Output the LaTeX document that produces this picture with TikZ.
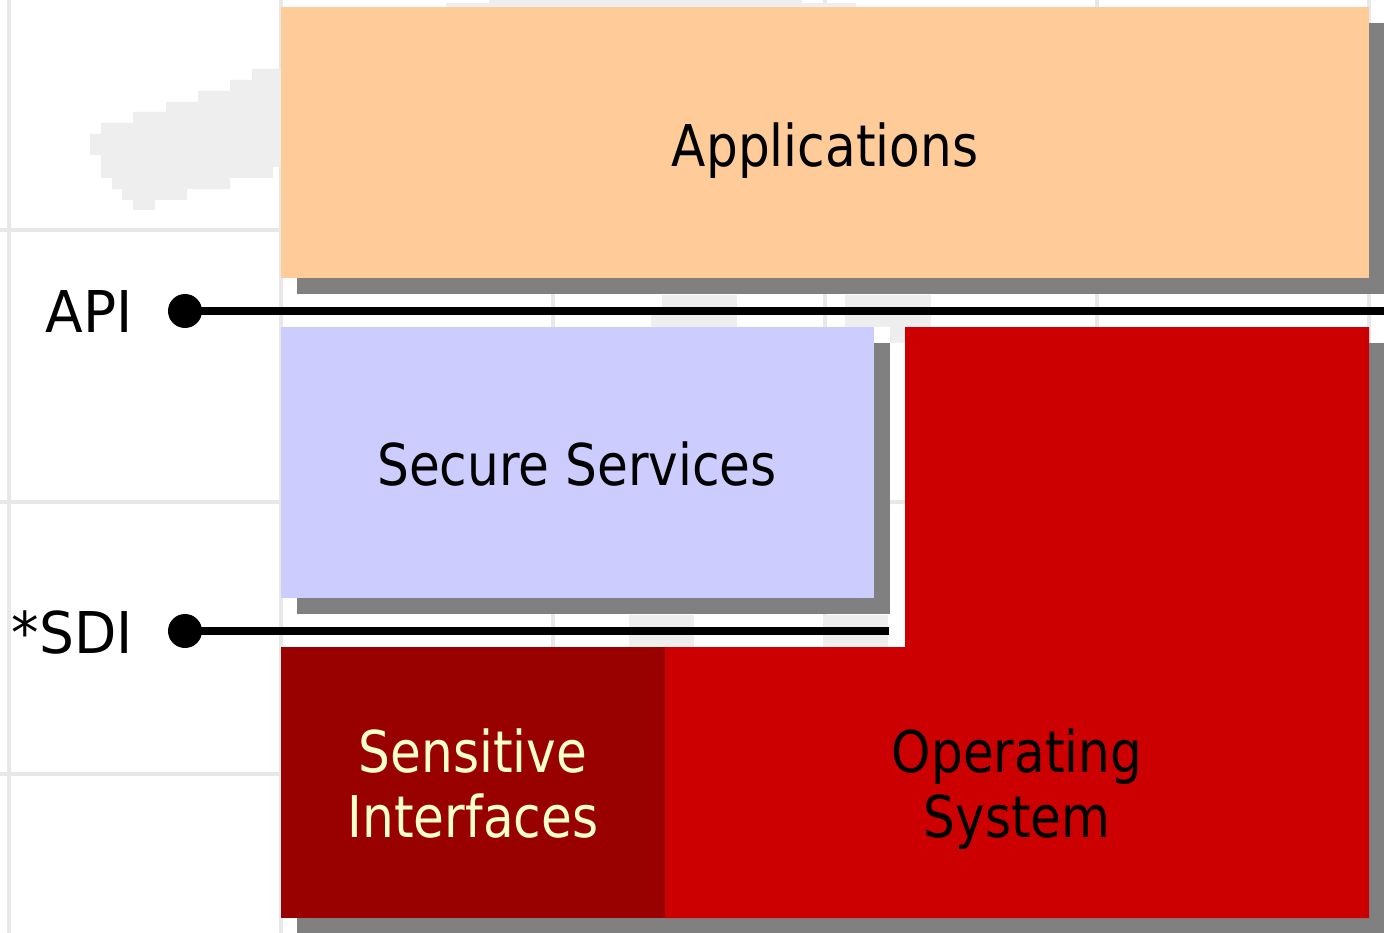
\documentclass[tikz,border=0pt]{standalone}
\usepackage{fontspec}
\setmainfont{DejaVu Sans}[FakeStretch=0.87]
\newfontfamily\sidefont{DejaVu Sans}[FakeStretch=0.955]
\definecolor{peach}{HTML}{FFCC99}
\definecolor{lavender}{HTML}{CCCCFF}
\definecolor{osred}{HTML}{CC0000}
\definecolor{sired}{HTML}{990000}
\definecolor{shadowgray}{HTML}{808080}
\definecolor{paleyellow}{HTML}{FFFFCC}
\definecolor{gridgray}{HTML}{E8E8E8}
\definecolor{blobgray}{HTML}{EEEEEE}
\tikzset{
  gridline/.style={draw=gridgray, line width=4pt},
  blob/.style={fill=blobgray, draw=none},
  shadowbox/.style={fill=shadowgray, draw=none},
  layer/.style={draw=none, inner sep=0pt, outer sep=0pt},
  labeltext/.style={font=\fontsize{57.6}{65}\selectfont, inner sep=0pt, align=center},
  sidetext/.style={font=\sidefont\fontsize{57.6}{65}\selectfont, inner sep=0pt},
  bus/.style={line width=8pt, draw=black},
  busdot/.style={circle, fill=black, minimum size=34pt, inner sep=0pt}
}
\begin{document}
\begin{tikzpicture}[x=1pt, y=-1pt]
\useasboundingbox (0,0) rectangle (1384,933);
\fill[white] (0,0) rectangle (1384,933);
% faint background grid
\foreach \gx in {9,281,553,825,1097,1369} \draw[gridline] (\gx,0) -- (\gx,933);
\foreach \gy in {230,502,774} \draw[gridline] (0,\gy) -- (1384,\gy);
% faint background blobs
\path[blob] (90,134) -- (101,134) -- (101,123) -- (133,123) -- (133,112) -- (166,112) -- (166,102) -- (198,102) -- (198,91) -- (230,91) -- (230,80) -- (252,80) -- (252,69) -- (281,69) -- (281,167) -- (273,167) -- (273,178) -- (230,178) -- (230,189) -- (187,189) -- (187,200) -- (155,200) -- (155,210) -- (133,210) -- (133,200) -- (122,200) -- (122,189) -- (112,189) -- (112,178) -- (101,178) -- (101,155) -- (90,155) -- cycle;
\path[blob] (446,3) rectangle (856,7);
\path[blob] (489,0) rectangle (802,3);
\path[blob] (662,295) rectangle (737,327);
\path[blob] (651,315) rectangle (662,327);
\path[blob] (845,295) rectangle (931,327);
\path[blob] (890,327) rectangle (905,343);
\path[blob] (629,615) rectangle (694,647);
\path[blob] (823,615) rectangle (888,647);
% shadows
\path[shadowbox] (297,23) rectangle (1384,294);
\path[shadowbox] (297,343) rectangle (890,614);
\path[shadowbox] (921,343) -- (1384,343) -- (1384,933) -- (297,933) -- (297,663) -- (921,663) -- cycle;
% layers
\node[layer, fill=peach, minimum width=1088pt, minimum height=271pt, anchor=north west] (apps) at (281,7) {};
\node[layer, fill=lavender, minimum width=593pt, minimum height=271pt, anchor=north west] (secure) at (281,327) {};
\path[fill=osred] (905,327) -- (1369,327) -- (1369,918) -- (665,918) -- (665,647) -- (905,647) -- cycle;
\node[layer, fill=sired, minimum width=384pt, minimum height=271pt, anchor=north west] (sensitive) at (281,647) {};
\coordinate (oscenter) at (1017,837);
% texts
\node[labeltext, anchor=base] (appstext) at (825,167) {Applications};
\node[labeltext, anchor=base] (securetext) at (577,485) {Secure Services};
\node[labeltext, anchor=base, text=paleyellow] (sensitivetext) at (473,837) {Sensitive\\Interfaces};
\node[labeltext, anchor=base] (ostext) at (oscenter) {Operating\\System};
\node[sidetext, anchor=base east] (apilabel) at (133,333) {API};
\node[sidetext, anchor=base east] (sdilabel) at (133,653) {*SDI};
% interface buses
\node[busdot] (apidot) at (185,311) {};
\node[busdot] (sdidot) at (185,631) {};
\coordinate (apiend) at (1384,311);
\coordinate (sdiend) at (889,631);
\draw[bus] (apidot.center) -- (apiend);
\draw[bus] (sdidot.center) -- (sdiend);
\end{tikzpicture}
\end{document}
